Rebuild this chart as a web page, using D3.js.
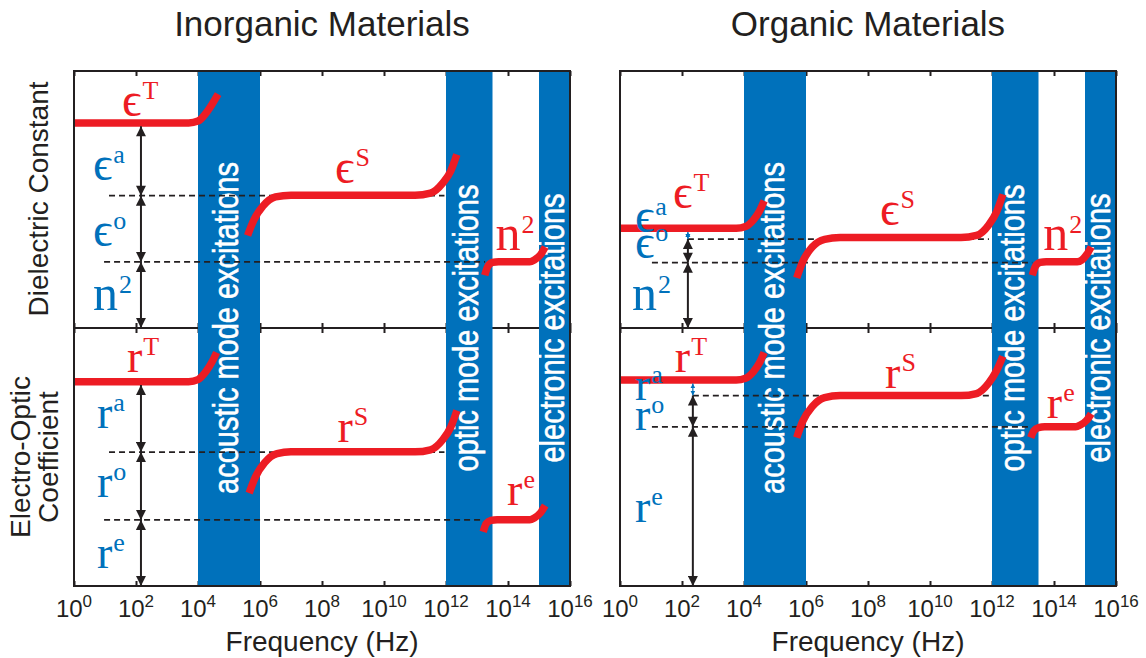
<!DOCTYPE html>
<html>
<head>
<meta charset="utf-8">
<script src="https://cdn.jsdelivr.net/npm/d3@7"></script>
<style>
  body { margin: 0; background: #fff; }
  text { font-family: Arial, "Liberation Sans", Helvetica, sans-serif; fill: #231f20; }
  text.sym { font-family: "Times New Roman", "Liberation Serif", "DejaVu Serif", serif; }
</style>
</head>
<body>
<svg id="chart" width="1146" height="658"></svg>
<script>
// ---- data ----
var columnTitles = ["Inorganic Materials", "Organic Materials"];
var rowTitles = [["Dielectric Constant"], ["Electro-Optic", "Coefficient"]];
var decades = [0, 2, 4, 6, 8, 10, 12, 14, 16];

var bandNames = ["acoustic mode excitations", "optic mode excitations", "electronic excitations"];
var bandFrom = [4, 12, 15];
var bandTo = [6, 13.5, 16];

// curves: [log10 frequency, relative value]
var inorgDielT = [[0, 7.98], [3.7, 7.98], [4.0, 8.05], [4.25, 8.35], [4.45, 8.7], [4.65, 9.1]];
var inorgDielS = [[5.6, 3.6], [5.8, 4.2], [6.1, 4.75], [6.5, 5.1], [7.0, 5.17], [11.0, 5.17], [11.5, 5.25], [11.9, 5.65], [12.15, 6.1], [12.35, 6.75]];
var inorgDielE = [[13.25, 2.05], [13.35, 2.4], [13.5, 2.55], [13.7, 2.58], [14.7, 2.58], [14.85, 2.65], [15.05, 2.85], [15.2, 3.15]];

var inorgEoT = [[0, 7.92], [3.7, 7.92], [4.0, 8.0], [4.25, 8.3], [4.45, 8.68], [4.6, 9.05]];
var inorgEoS = [[5.65, 3.6], [5.85, 4.22], [6.15, 4.78], [6.55, 5.13], [7.0, 5.2], [11.0, 5.2], [11.5, 5.28], [11.9, 5.68], [12.15, 6.15], [12.35, 6.8]];
var inorgEoE = [[13.2, 2.1], [13.3, 2.42], [13.45, 2.54], [13.65, 2.57], [14.7, 2.57], [14.85, 2.64], [15.05, 2.84], [15.2, 3.12]];

var orgDielT = [[0, 3.88], [3.75, 3.88], [4.05, 3.95], [4.3, 4.2], [4.5, 4.55], [4.65, 4.95]];
var orgDielS = [[5.7, 1.95], [5.9, 2.6], [6.2, 3.15], [6.6, 3.45], [7.1, 3.52], [11.0, 3.52], [11.5, 3.6], [11.9, 4.02], [12.15, 4.52], [12.35, 5.2]];
var orgDielE = [[13.3, 2.05], [13.4, 2.4], [13.55, 2.55], [13.75, 2.58], [14.75, 2.58], [14.9, 2.65], [15.05, 2.85], [15.2, 3.15]];

var orgEoT = [[0, 7.98], [3.75, 7.98], [4.05, 8.05], [4.3, 8.3], [4.5, 8.65], [4.65, 9.05]];
var orgEoS = [[5.7, 5.75], [5.9, 6.4], [6.2, 6.95], [6.6, 7.3], [7.1, 7.38], [11.0, 7.38], [11.5, 7.46], [11.9, 7.88], [12.15, 8.35], [12.35, 8.9]];
var orgEoE = [[13.25, 5.75], [13.35, 6.02], [13.5, 6.14], [13.7, 6.17], [14.7, 6.17], [14.85, 6.24], [15.05, 6.42], [15.2, 6.68]];

// dashed reference levels: [from log10 f, to log10 f, value]
var inorgDielDash = [[1.13, 11.95, 5.15], [0.97, 13.26, 2.57]];
var inorgEoDash = [[1.13, 11.95, 5.19], [0.97, 13.2, 2.56]];
var orgDielDash = [[2.19, 11.9, 3.46], [1.03, 13.3, 2.54]];
var orgEoDash = [[2.35, 11.9, 7.38], [1.03, 13.25, 6.17]];

// double arrows: [log10 f, from, to, kind]
var inorgDielArrows = [[2.16, 7.85, 5.15, "major"], [2.16, 5.15, 2.57, "major"], [2.16, 2.57, 0, "major"]];
var inorgEoArrows = [[2.16, 7.79, 5.19, "major"], [2.16, 5.19, 2.56, "major"], [2.16, 2.56, 0, "major"]];
var orgDielArrows = [[2.19, 3.74, 3.46, "minor"], [2.19, 3.46, 2.54, "major"], [2.19, 2.54, 0, "major"]];
var orgEoArrows = [[2.35, 7.85, 7.38, "minor"], [2.35, 7.38, 6.17, "major"], [2.35, 6.17, 0, "major"]];

// labels: [symbol, superscript, log10 f, value, kind]
var inorgDielLabels = [["ϵ", "T", 1.55, 8.25, "curve"], ["ϵ", "a", 0.61, 5.76, "part"], ["ϵ", "o", 0.61, 3.19, "part"],
                       ["n", "2", 0.61, 0.7, "part"], ["ϵ", "S", 8.42, 5.64, "curve"], ["n", "2", 13.6, 3.03, "curve"]];
var inorgEoLabels = [["r", "T", 1.71, 8.29, "curve"], ["r", "a", 0.74, 6.12, "part"], ["r", "o", 0.74, 3.45, "part"],
                     ["r", "e", 0.74, 0.7, "part"], ["r", "S", 8.5, 5.58, "curve"], ["r", "e", 13.97, 3.14, "curve"]];
var orgDielLabels = [["ϵ", "T", 1.71, 4.67, "curve"], ["ϵ", "a", 0.48, 3.74, "part"], ["ϵ", "o", 0.48, 2.72, "part"],
                     ["n", "2", 0.39, 0.7, "part"], ["ϵ", "S", 8.39, 4.0, "curve"], ["n", "2", 13.65, 3.03, "curve"]];
var orgEoLabels = [["r", "T", 1.77, 8.29, "curve"], ["r", "a", 0.48, 7.21, "part"], ["r", "o", 0.48, 6.05, "part"],
                   ["r", "e", 0.48, 2.48, "part"], ["r", "S", 8.55, 7.67, "curve"], ["r", "e", 13.77, 6.51, "curve"]];

var panels = [
  { col: 0, row: 0, curves: [inorgDielT, inorgDielS, inorgDielE], dashes: inorgDielDash, arrows: inorgDielArrows, labels: inorgDielLabels },
  { col: 0, row: 1, curves: [inorgEoT, inorgEoS, inorgEoE], dashes: inorgEoDash, arrows: inorgEoArrows, labels: inorgEoLabels },
  { col: 1, row: 0, curves: [orgDielT, orgDielS, orgDielE], dashes: orgDielDash, arrows: orgDielArrows, labels: orgDielLabels },
  { col: 1, row: 1, curves: [orgEoT, orgEoS, orgEoE], dashes: orgEoDash, arrows: orgEoArrows, labels: orgEoLabels }
];

// ---- layout ----
var red = "#ed1c24", blue = "#0071bb", ink = "#231f20";
var colLeft = [74, 620], panelW = 496;
var rowTop = [71, 328], rowBottom = [328, 586];
var top0 = 71, bottom1 = 586;
var glyphSize = { "ϵ": 48, "n": 50, "r": 46 };

var svg = d3.select("#chart");

// arrow heads
var defs = svg.append("defs");
function addMarker(id, color, len, wid) {
  defs.append("marker")
    .attr("id", id)
    .attr("viewBox", "0 0 10 10")
    .attr("refX", 10).attr("refY", 5)
    .attr("markerUnits", "userSpaceOnUse")
    .attr("markerWidth", len).attr("markerHeight", wid)
    .attr("orient", "auto-start-reverse")
    .append("path").attr("d", "M0,0L10,5L0,10z").attr("fill", color);
}
addMarker("headMajor", ink, 11, 10);
addMarker("headMinor", blue, 5, 6);

var gAxes = svg.append("g");
var gBands = svg.append("g");
var gMarks = svg.append("g");
var gFrame = svg.append("g");

var xScales = colLeft.map(function(x0) {
  return d3.scaleLog().domain([1, 1e16]).range([x0, x0 + panelW]);
});
var tickVals = decades.map(function(d) { return Math.pow(10, d); });

// axes ticks (inward) on top and bottom of every panel
panels.forEach(function(p) {
  var x = xScales[p.col];
  var axB = gAxes.append("g")
    .attr("transform", "translate(0," + rowBottom[p.row] + ")")
    .call(d3.axisBottom(x).tickValues(tickVals).tickSizeInner(-5).tickSizeOuter(0).tickFormat(""));
  var axT = gAxes.append("g")
    .attr("transform", "translate(0," + rowTop[p.row] + ")")
    .call(d3.axisTop(x).tickValues(tickVals).tickSizeInner(-5).tickSizeOuter(0).tickFormat(""));
  [axB, axT].forEach(function(a) {
    a.select(".domain").remove();
    a.selectAll("line").attr("stroke", ink).attr("stroke-width", 2);
  });
});

// middle border (hidden under bands)
xScales.forEach(function(x) {
  gAxes.append("line")
    .attr("x1", x.range()[0]).attr("x2", x.range()[1])
    .attr("y1", rowBottom[0]).attr("y2", rowBottom[0])
    .attr("stroke", ink).attr("stroke-width", 2);
});

// excitation bands spanning both rows
xScales.forEach(function(x) {
  bandNames.forEach(function(name, i) {
    var x0 = x(Math.pow(10, bandFrom[i])), x1 = x(Math.pow(10, bandTo[i]));
    gBands.append("rect")
      .attr("x", x0).attr("y", top0)
      .attr("width", x1 - x0).attr("height", bottom1 - top0)
      .attr("fill", blue);
    var cx = (x0 + x1) / 2 + 9;
    gBands.append("text")
      .attr("transform", "translate(" + cx + "," + rowBottom[0] + ") rotate(-90) scale(1,1.18)")
      .attr("text-anchor", "middle")
      .style("fill", "#fff")
      .style("stroke", "#fff")
      .style("stroke-width", 0.5)
      .style("font-size", "29px")
      .text(name);
  });
});

var line = d3.line().curve(d3.curveMonotoneX);

panels.forEach(function(p) {
  var x = xScales[p.col];
  var y = d3.scaleLinear().domain([0, 10]).range([rowBottom[p.row], rowTop[p.row]]);
  var fx = function(e) { return x(Math.pow(10, e)); };

  // dashed levels
  p.dashes.forEach(function(d) {
    gMarks.append("line")
      .attr("x1", fx(d[0])).attr("x2", fx(d[1]))
      .attr("y1", y(d[2])).attr("y2", y(d[2]))
      .attr("stroke", ink).attr("stroke-width", 1.8)
      .attr("stroke-dasharray", "6,4");
  });

  // red curves
  p.curves.forEach(function(c) {
    gMarks.append("path")
      .attr("d", line.x(function(d) { return fx(d[0]); }).y(function(d) { return y(d[1]); })(c))
      .attr("fill", "none")
      .attr("stroke", red)
      .attr("stroke-width", 7.5);
  });

  // arrows
  p.arrows.forEach(function(a) {
    var minor = a[3] === "minor";
    gMarks.append("line")
      .attr("x1", fx(a[0])).attr("x2", fx(a[0]))
      .attr("y1", y(a[1])).attr("y2", y(a[2]))
      .attr("stroke", minor ? blue : ink)
      .attr("stroke-width", minor ? 1.2 : 2)
      .attr("marker-start", minor ? "url(#headMinor)" : "url(#headMajor)")
      .attr("marker-end", minor ? "url(#headMinor)" : "url(#headMajor)");
  });

  // symbol labels
  p.labels.forEach(function(l) {
    var col = l[4] === "curve" ? red : blue;
    var t = gMarks.append("text")
      .attr("class", "sym")
      .attr("x", fx(l[2])).attr("y", y(l[3]))
      .style("fill", col);
    t.append("tspan")
      .style("font-size", glyphSize[l[0]] + "px")
      .style("fill", col)
      .text(l[0]);
    t.append("tspan")
      .attr("dy", -17)
      .attr("dx", 1)
      .style("font-size", "26px")
      .style("fill", col)
      .text(l[1]);
  });
});

// outer frames
xScales.forEach(function(x) {
  gFrame.append("rect")
    .attr("x", x.range()[0]).attr("y", top0)
    .attr("width", panelW).attr("height", bottom1 - top0)
    .attr("fill", "none").attr("stroke", ink).attr("stroke-width", 2);
});

// tick labels 10^n
xScales.forEach(function(x) {
  decades.forEach(function(d) {
    var t = gFrame.append("text")
      .attr("x", x(Math.pow(10, d))).attr("y", 617)
      .attr("text-anchor", "middle")
      .style("font-size", "24px");
    t.append("tspan").text("10");
    t.append("tspan").attr("dy", -10).style("font-size", "17px").text(d);
  });
});

// titles and axis labels
xScales.forEach(function(x, i) {
  var cx = (x.range()[0] + x.range()[1]) / 2;
  gFrame.append("text")
    .attr("x", cx).attr("y", 36)
    .attr("text-anchor", "middle")
    .style("font-size", "35px")
    .text(columnTitles[i]);
  gFrame.append("text")
    .attr("x", cx).attr("y", 651)
    .attr("text-anchor", "middle")
    .style("font-size", "28px")
    .text("Frequency (Hz)");
});

gFrame.append("text")
  .attr("transform", "translate(48,199) rotate(-90)")
  .attr("text-anchor", "middle")
  .style("font-size", "28px")
  .text(rowTitles[0][0]);
rowTitles[1].forEach(function(s, i) {
  gFrame.append("text")
    .attr("transform", "translate(" + (30 + i * 28) + ",457) rotate(-90)")
    .attr("text-anchor", "middle")
    .style("font-size", "28px")
    .text(s);
});
</script>
</body>
</html>
